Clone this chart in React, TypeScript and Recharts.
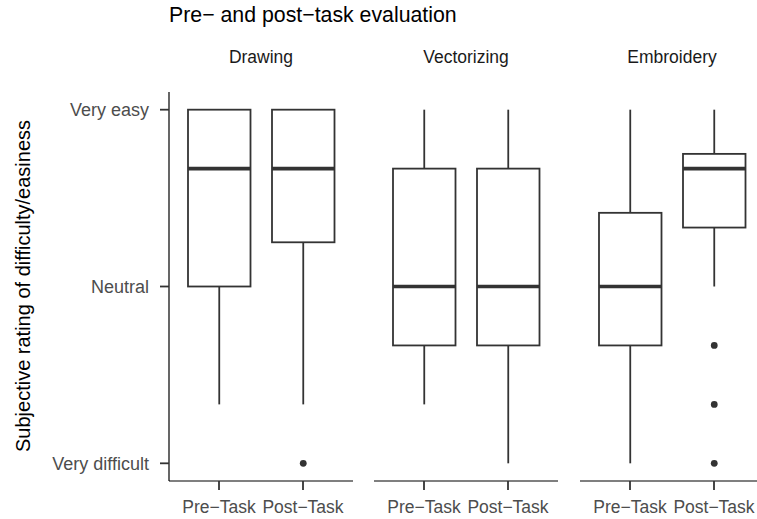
import React from 'react';
import { ComposedChart, Bar, XAxis, YAxis } from 'recharts';

const FONT = '"Liberation Sans", Arial, sans-serif';

const facets = ['Drawing', 'Vectorizing', 'Embroidery'];
const tasks = ['Pre−Task', 'Post−Task'];
const ratingTicks = [1, 4, 7];
const ratingLabels: Record<number, string> = { 1: 'Very difficult', 4: 'Neutral', 7: 'Very easy' };

// [facet][task]
const whiskerLow = [[2, 2], [2, 1], [1, 4]];
const lowerQuartile = [[4, 4.75], [3, 3], [3, 5]];
const medians = [[6, 6], [4, 4], [4, 6]];
const upperQuartile = [[7, 7], [6, 6], [5.25, 6.25]];
const whiskerHigh = [[7, 7], [7, 7], [7, 7]];
const outliers = [[[], [1]], [[], []], [[], [3, 2, 1]]];

const INK = '#333333';

const BoxShape = (props: any) => {
  const { x, y, width, height, payload } = props;
  if (!payload) return null;
  const top = Math.min(y, y + height);
  const bottom = Math.max(y, y + height);
  const span = payload.high - payload.low;
  const py = (v: number) => bottom - ((v - payload.low) / span) * (bottom - top);
  const cx = x + width / 2;
  return (
    <g>
      <line x1={cx} x2={cx} y1={py(payload.high)} y2={py(payload.q3)} stroke={INK} strokeWidth={1.8} />
      <line x1={cx} x2={cx} y1={py(payload.q1)} y2={py(payload.low)} stroke={INK} strokeWidth={1.8} />
      <rect
        x={x}
        y={py(payload.q3)}
        width={width}
        height={py(payload.q1) - py(payload.q3)}
        fill="#fff"
        stroke={INK}
        strokeWidth={1.8}
      />
      <line x1={x} x2={x + width} y1={py(payload.median)} y2={py(payload.median)} stroke={INK} strokeWidth={3.6} />
      {payload.outliers.map((v: number, i: number) => (
        <circle key={i} cx={cx} cy={py(v)} r={3.4} fill={INK} />
      ))}
    </g>
  );
};

const buildRows = (f: number) =>
  tasks.map((task, i) => ({
    task,
    range: [whiskerLow[f][i], whiskerHigh[f][i]],
    low: whiskerLow[f][i],
    q1: lowerQuartile[f][i],
    median: medians[f][i],
    q3: upperQuartile[f][i],
    high: whiskerHigh[f][i],
    outliers: outliers[f][i]
  }));

const PANEL_W = 184;
const panelStarts = [169, 374, 580];
const CHART_H = 519;
const PLOT_TOP = 92;
const X_AXIS_H = 38;

const Panel: React.FC<{ f: number }> = ({ f }) => {
  const first = f === 0;
  const left = first ? 0 : panelStarts[f] - 14;
  const marginLeft = first ? 0 : 14;
  const yWidth = first ? panelStarts[0] : 0;
  const width = marginLeft + yWidth + PANEL_W + 8;
  return (
    <div style={{ position: 'absolute', left, top: 0 }}>
      <ComposedChart
        width={width}
        height={CHART_H}
        data={buildRows(f)}
        margin={{ top: PLOT_TOP, right: 8, bottom: 0, left: marginLeft }}
      >
        <XAxis
          dataKey="task"
          interval={0}
          padding={{ left: 8, right: 8 }}
          height={X_AXIS_H}
          tickSize={9}
          tickMargin={11}
          axisLine={{ stroke: '#000', strokeWidth: 1.2 }}
          tickLine={{ stroke: INK, strokeWidth: 1.8 }}
          tick={{ fill: '#4D4D4D', fontSize: 17.5, fontFamily: FONT }}
        />
        <YAxis
          type="number"
          hide={!first}
          width={yWidth}
          domain={[0.7, 7.3]}
          ticks={ratingTicks}
          allowDataOverflow
          tickFormatter={(v: number) => ratingLabels[v] ?? ''}
          tickSize={9}
          tickMargin={11}
          axisLine={{ stroke: '#000', strokeWidth: 1.2 }}
          tickLine={{ stroke: INK, strokeWidth: 1.8 }}
          tick={{ fill: '#4D4D4D', fontSize: 18, fontFamily: FONT }}
        />
        <Bar dataKey="range" barSize={62.5} shape={BoxShape} isAnimationActive={false} />
      </ComposedChart>
    </div>
  );
};

export default function App() {
  return (
    <div
      style={{
        position: 'absolute',
        left: 0,
        top: 0,
        width: 757,
        height: 519,
        overflow: 'hidden',
        background: '#fff',
        fontFamily: FONT
      }}
    >
      {facets.map((name, f) => (
        <Panel key={name} f={f} />
      ))}
      {facets.map((name, f) => (
        <div
          key={name + '-strip'}
          style={{
            position: 'absolute',
            left: panelStarts[f],
            width: PANEL_W,
            top: 46,
            textAlign: 'center',
            fontSize: 17.5,
            lineHeight: '22px',
            color: '#1A1A1A'
          }}
        >
          {name}
        </div>
      ))}
      <div
        style={{
          position: 'absolute',
          left: 169,
          top: 3,
          fontSize: 21.3,
          lineHeight: '24px',
          color: '#000',
          whiteSpace: 'nowrap'
        }}
      >
        Pre− and post−task evaluation
      </div>
      <div
        style={{
          position: 'absolute',
          left: 23,
          top: 286,
          transform: 'translate(-50%, -50%) rotate(-90deg)',
          fontSize: 20,
          lineHeight: '24px',
          color: '#000',
          whiteSpace: 'nowrap'
        }}
      >
        Subjective rating of difficulty/easiness
      </div>
    </div>
  );
}
